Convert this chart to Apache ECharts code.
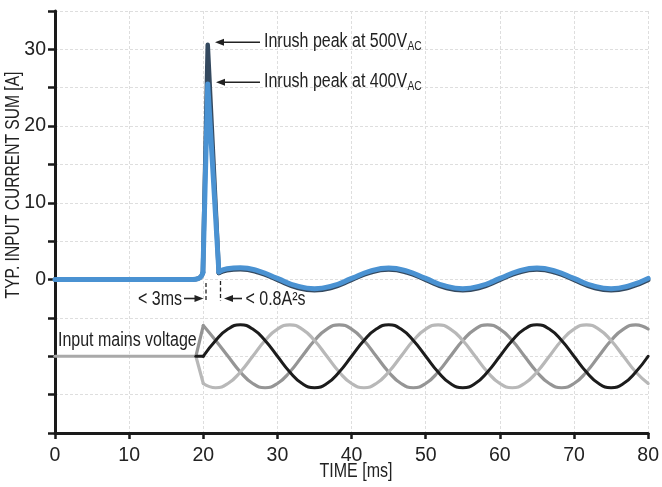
<!DOCTYPE html>
<html><head><meta charset="utf-8">
<script src="https://cdn.jsdelivr.net/npm/echarts@6/dist/echarts.min.js"></script>
<style>html,body{margin:0;padding:0;background:#fff}#c{width:662px;height:487px}</style>
</head><body><div id="c"></div>
<script>
const FONT = '"Liberation Sans Narrow","Arial Narrow","Liberation Sans",Arial,sans-serif';
const TXT = '#222';
const NARROW = 0.82;
const FS = 19.5;

// axis ticks
const xTickLabels = [0, 10, 20, 30, 40, 50, 60, 70, 80];
const yTickLabels = [0, 10, 20, 30];

// input current, before the inrush spike
const tPre = [0, 18.6, 19.3, 19.7, 19.95];
const i400Pre = [0, 0, 0.12, 0.4, 0.9];
const i500Pre = [0, 0, 0.12, 0.4, 0.9];
// inrush spike
const tSpike = [19.95, 20.6, 22.1];
const i400Spike = [0.9, 25.5, 1.0];
const i500Spike = [0.9, 30.6, 0.85];
// after the spike
const tPost = [22.1, 23.2, 25, 27.5, 30, 32.5, 35, 37.5, 40, 42.5, 45, 47.5, 50, 52.5, 55, 57.5, 60, 62.5, 65, 67.5, 70, 72.5, 75, 77.5, 80];
const i400Post = [1.0, 1.4, 1.55, 1.1, 0.15, -0.8, -1.2, -0.8, 0.15, 1.1, 1.5, 1.1, 0.15, -0.8, -1.2, -0.8, 0.15, 1.1, 1.5, 1.1, 0.15, -0.8, -1.2, -0.8, 0.15];
const i500Post = [0.85, 1.2, 1.35, 0.92, -0.05, -1.0, -1.4, -1.0, -0.05, 0.92, 1.3, 0.92, -0.05, -1.0, -1.4, -1.0, -0.05, 0.92, 1.3, 0.92, -0.05, -1.0, -1.4, -1.0, -0.05];

// input mains voltage (drawn around -10 on the same axis)
const tFlat = [0, 19];
const vFlat = [-10, -10];
const tJump = [19, 20];
const vBlackJump = [-10, -10];
const vLightJump = [-10, -13.55];
const vMedJump = [-10, -6.0];
const tV = [20, 21.67, 23.33, 25, 26.67, 28.33, 30, 31.67, 33.33, 35, 36.67, 38.33, 40, 41.67, 43.33, 45, 46.67, 48.33, 50, 51.67, 53.33, 55, 56.67, 58.33, 60, 61.67, 63.33, 65, 66.67, 68.33, 70, 71.67, 73.33, 75, 76.67, 78.33, 80];
const vBlack = [-10, -7.95, -6.45, -5.9, -6.45, -7.95, -10, -12.05, -13.55, -14.1, -13.55, -12.05,
                -10, -7.95, -6.45, -5.9, -6.45, -7.95, -10, -12.05, -13.55, -14.1, -13.55, -12.05,
                -10, -7.95, -6.45, -5.9, -6.45, -7.95, -10, -12.05, -13.55, -14.1, -13.55, -12.05, -10];
const vLight = [-13.55, -14.1, -13.55, -12.05, -10, -7.95, -6.45, -5.9, -6.45, -7.95, -10, -12.05,
                -13.55, -14.1, -13.55, -12.05, -10, -7.95, -6.45, -5.9, -6.45, -7.95, -10, -12.05,
                -13.55, -14.1, -13.55, -12.05, -10, -7.95, -6.45, -5.9, -6.45, -7.95, -10, -12.05, -13.55];
const vMed = [-6.0, -7.95, -10, -12.05, -13.55, -14.1, -13.55, -12.05, -10, -7.95, -6.45, -5.9,
              -6.45, -7.95, -10, -12.05, -13.55, -14.1, -13.55, -12.05, -10, -7.95, -6.45, -5.9,
              -6.45, -7.95, -10, -12.05, -13.55, -14.1, -13.55, -12.05, -10, -7.95, -6.45, -5.9, -6.45];

const zip = (xs, ys) => xs.map((x, i) => [x, ys[i]]);
function mk(xs, ys, color, width, smooth, z) {
  return {
    type: 'line', data: zip(xs, ys), smooth: smooth, showSymbol: false, symbol: 'none',
    silent: true, z: z, animation: false,
    lineStyle: { color: color, width: width, cap: 'round', join: 'round' }
  };
}

const C_BLUE = '#4a92d2', C_DARK = '#34495f', C_BLACK = '#1c1c1c', C_LIGHT = '#b8b8b8', C_MED = '#959595', C_FLAT = '#a9a9a9';

const series = [
  mk(tFlat, vFlat, C_FLAT, 3.2, false, 2),
  mk(tJump, vMedJump, C_MED, 3.2, false, 2),
  mk(tV, vMed, C_MED, 3.2, 0.5, 2),
  mk(tJump, vLightJump, C_LIGHT, 3.2, false, 3),
  mk(tV, vLight, C_LIGHT, 3.2, 0.5, 3),
  mk(tJump, vBlackJump, C_BLACK, 3, false, 4),
  mk(tV, vBlack, C_BLACK, 3, 0.5, 4),
  mk(tPre, i500Pre, C_DARK, 4.5, 0.4, 5),
  mk(tSpike, i500Spike, C_DARK, 4.5, false, 5),
  mk(tPost, i500Post, C_DARK, 4.5, 0.5, 5),
  mk(tPre, i400Pre, C_BLUE, 5, 0.4, 6),
  mk(tSpike, i400Spike, C_BLUE, 5, false, 6),
  mk(tPost, i400Post, C_BLUE, 5, 0.5, 6)
];

function arrowLeft(tipX, y, tailX) {
  return [
    { type: 'line', shape: { x1: tipX + 7, y1: y, x2: tailX, y2: y }, style: { stroke: TXT, lineWidth: 1.6 }, z: 50 },
    { type: 'polygon', shape: { points: [[tipX, y], [tipX + 9, y - 3.5], [tipX + 9, y + 3.5]] }, style: { fill: TXT }, z: 50 }
  ];
}
function arrowRight(tipX, y, tailX) {
  return [
    { type: 'line', shape: { x1: tailX, y1: y, x2: tipX - 7, y2: y }, style: { stroke: TXT, lineWidth: 1.6 }, z: 50 },
    { type: 'polygon', shape: { points: [[tipX, y], [tipX - 9, y - 3.5], [tipX - 9, y + 3.5]] }, style: { fill: TXT }, z: 50 }
  ];
}
function txt(x, y, text, align, fs) {
  return {
    type: 'text', x: x, y: y, z: 50, scaleX: NARROW,
    style: { text: text, fontSize: fs || FS, fontFamily: FONT, fill: TXT, align: align || 'left', verticalAlign: 'middle' }
  };
}
const mctx = document.createElement('canvas').getContext('2d');
function textW(text, fs) {
  mctx.font = fs + 'px ' + FONT;
  return mctx.measureText(text).width * NARROW;
}
function withSub(x, y, main, sub) {
  const w = textW(main, FS);
  return [txt(x, y, main, 'left'), txt(x + w + 0.3, y + 5, sub, 'left', 12.5)];
}

const graphic = [].concat(
  [ { type: 'text', x: 14, y: 185, rotation: Math.PI / 2, scaleX: 0.8, z: 50,
      style: { text: 'TYP. INPUT CURRENT SUM [A]', fontSize: FS, fontFamily: FONT, fill: TXT, align: 'center', verticalAlign: 'middle' } },
    txt(356, 471.5, 'TIME [ms]', 'center'),
    txt(138, 300, '< 3ms', 'left'),
    txt(245.5, 300, '< 0.8A²s', 'left'),
    txt(58, 341, 'Input mains voltage', 'left'),
    { type: 'line', shape: { x1: 206, y1: 283, x2: 206, y2: 301 }, style: { stroke: TXT, lineWidth: 1.3, lineDash: [4, 2.5] }, z: 50 },
    { type: 'line', shape: { x1: 220.5, y1: 281, x2: 220.5, y2: 301 }, style: { stroke: TXT, lineWidth: 1.3, lineDash: [4, 2.5] }, z: 50 }
  ],
  withSub(264, 42, 'Inrush peak at 500V', 'AC'),
  withSub(264, 82, 'Inrush peak at 400V', 'AC'),
  arrowLeft(215, 42.3, 260),
  arrowLeft(216, 82.3, 260),
  arrowRight(203.5, 298.5, 184),
  arrowLeft(224, 298.5, 242)
);

const chart = echarts.init(document.getElementById('c'), null, { renderer: 'canvas' });
chart.setOption({
  animation: false,
  backgroundColor: '#fff',
  grid: { left: 55, right: 9, top: 11, bottom: 54, containLabel: false },
  xAxis: {
    type: 'value', min: 0, max: 80, interval: 10,
    axisLine: { onZero: false, lineStyle: { color: '#1a1a1a', width: 3 } },
    axisTick: { length: 6, lineStyle: { color: '#1a1a1a', width: 2.5 } },
    axisLabel: { fontSize: FS, fontFamily: FONT, color: TXT, margin: 13,
      formatter: v => xTickLabels.includes(v) ? String(v) : '' },
    splitLine: { show: true, lineStyle: { color: '#dedede', width: 1, type: [3, 2] } }
  },
  yAxis: {
    type: 'value', min: -20, max: 35, interval: 5,
    axisLine: { show: true, onZero: false, lineStyle: { color: '#1a1a1a', width: 3 } },
    axisTick: { show: true, length: 7, lineStyle: { color: '#1a1a1a', width: 2.5 } },
    axisLabel: { fontSize: FS, fontFamily: FONT, color: TXT, margin: 9,
      formatter: v => yTickLabels.includes(v) ? String(v) : '' },
    splitLine: { show: true, lineStyle: { color: '#dedede', width: 1, type: [3, 2] } }
  },
  series: series,
  graphic: graphic
});
</script>
</body></html>
